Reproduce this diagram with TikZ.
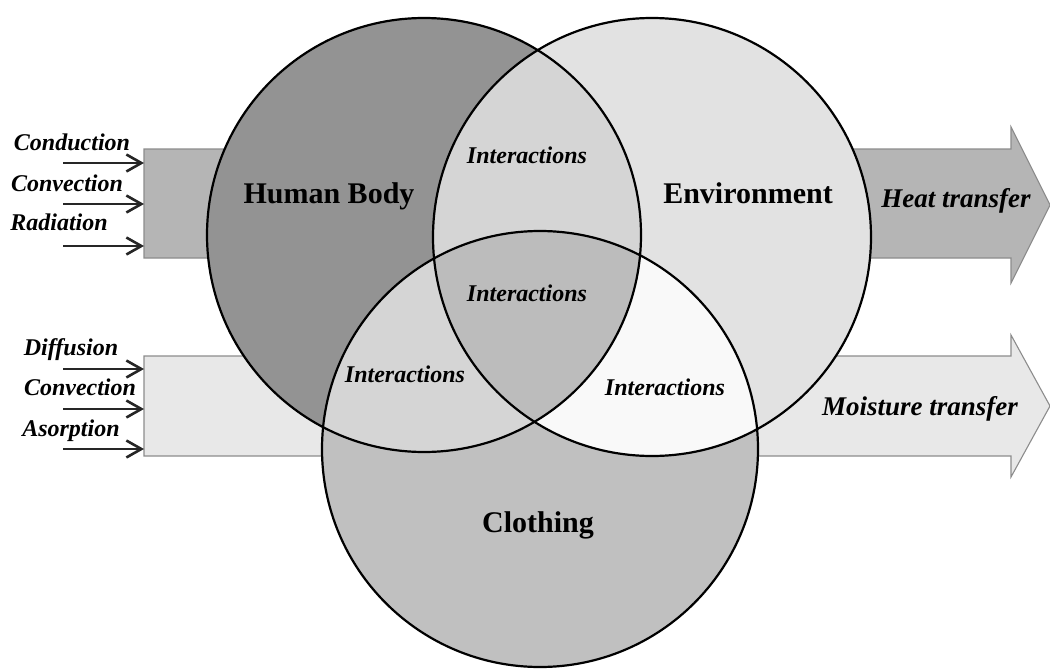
\documentclass[tikz,border=0pt]{standalone}
\usepackage{fontspec}
\setmainfont{Liberation Serif}
\usetikzlibrary{arrows.meta}
\definecolor{bodygray}{HTML}{939393}
\definecolor{envgray}{HTML}{E2E2E2}
\definecolor{clothgray}{HTML}{C0C0C0}
\definecolor{bodyenv}{HTML}{D5D5D5}
\definecolor{bodycloth}{HTML}{D5D5D5}
\definecolor{envcloth}{HTML}{F9F9F9}
\definecolor{allthree}{HTML}{BCBCBC}
\definecolor{heatfill}{HTML}{B5B5B5}
\definecolor{wetfill}{HTML}{E8E8E8}

\begin{document}
\begin{tikzpicture}[x=1pt, y=-1pt,
  ring/.style={line width=2.2pt},
  flow/.style={draw=black!45, line width=1.1pt},
  into/.style={line width=2.6pt, black!85, -{Straight Barb[length=15pt,width=17pt,line width=2.6pt]}},
  modelabel/.style={font=\fontsize{24}{24}\selectfont\bfseries\itshape, anchor=base, inner sep=0pt},
  setlabel/.style={font=\fontsize{30}{30}\selectfont\bfseries, anchor=base, inner sep=0pt},
  linklabel/.style={font=\fontsize{24}{24}\selectfont\bfseries\itshape, anchor=base, inner sep=0pt},
  flowlabel/.style={font=\fontsize{27}{27}\selectfont\bfseries\itshape, anchor=base, inner sep=0pt}]
\useasboundingbox (0,0) rectangle (1050,669);

% the two flow arrows
\draw[flow, fill=heatfill] (144,149) -- (1011,149) -- (1011,127) -- (1050,205)
  -- (1011,283) -- (1011,258) -- (144,258) -- cycle;
\draw[flow, fill=wetfill] (144,356) -- (1011,356) -- (1011,335) -- (1050,406)
  -- (1011,477) -- (1011,456) -- (144,456) -- cycle;
\coordinate (heatin) at (144,205);
\coordinate (wetin) at (144,406);

% the three sets
\coordinate (body) at (424,235);
\coordinate (env) at (652,237);
\coordinate (cloth) at (540,449);
\fill[bodygray] (body) circle[radius=217pt];
\fill[envgray] (env) circle[radius=219pt];
\fill[clothgray] (cloth) circle[radius=218pt];
\begin{scope}
  \clip (env) circle[radius=219pt];
  \fill[envcloth] (cloth) circle[radius=218pt];
\end{scope}
\begin{scope}
  \clip (body) circle[radius=217pt];
  \fill[bodyenv] (env) circle[radius=219pt];
  \fill[bodycloth] (cloth) circle[radius=218pt];
  \clip (env) circle[radius=219pt];
  \fill[allthree] (cloth) circle[radius=218pt];
\end{scope}
\draw[ring] (body) circle[radius=217pt];
\draw[ring] (env) circle[radius=219pt];
\draw[ring] (cloth) circle[radius=218pt];

\node[setlabel] (bodyname) at (329,203) {Human Body};
\node[setlabel] (envname) at (748,203) {Environment};
\node[setlabel] (clothname) at (538,532) {Clothing};
\node[linklabel] (linktop) at (527,163) {Interactions};
\node[linklabel] (linkmid) at (527,301) {Interactions};
\node[linklabel] (linkleft) at (405,382) {Interactions};
\node[linklabel] (linkright) at (665,395) {Interactions};
\node[flowlabel] (heatname) at (956,207) {Heat transfer};
\node[flowlabel] (wetname) at (920,415) {Moisture transfer};

% heat modes
\node[modelabel] (cond) at (72,150) {Conduction};
\node[modelabel] (convh) at (67,191) {Convection};
\node[modelabel] (rad) at (59,230) {Radiation};
\coordinate (h1) at (63,163);
\coordinate (h2) at (63,204);
\coordinate (h3) at (63,246);
\draw[into] (h1) -- (h1 -| heatin);
\draw[into] (h2) -- (h2 -| heatin);
\draw[into] (h3) -- (h3 -| heatin);

% moisture modes
\node[modelabel] (diff) at (71,355) {Diffusion};
\node[modelabel] (convm) at (80,395) {Convection};
\node[modelabel] (abs) at (71,436) {Asorption};
\coordinate (m1) at (63,369);
\coordinate (m2) at (63,409);
\coordinate (m3) at (63,449);
\draw[into] (m1) -- (m1 -| wetin);
\draw[into] (m2) -- (m2 -| wetin);
\draw[into] (m3) -- (m3 -| wetin);
\end{tikzpicture}
\end{document}
